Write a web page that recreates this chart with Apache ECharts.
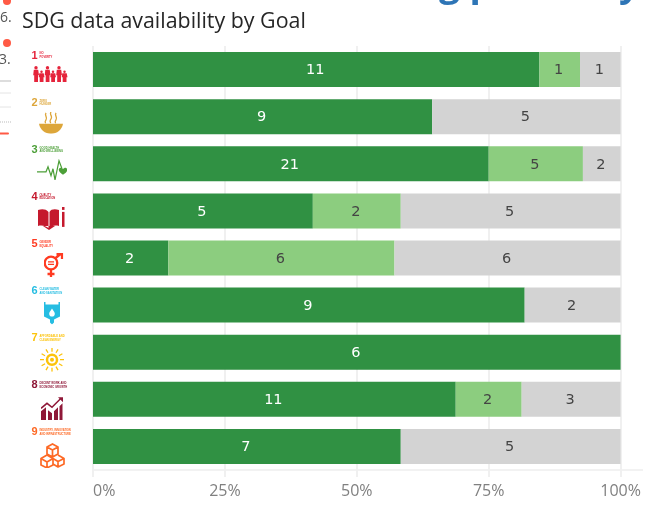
<!DOCTYPE html>
<html><head><meta charset="utf-8">
<style>html,body{margin:0;padding:0;background:#fff;overflow:hidden}#c{width:666px;height:505px;filter:blur(0.35px)}</style>
<script src="https://cdn.jsdelivr.net/npm/echarts@6/dist/echarts.min.js"></script>
</head><body><div id="c"></div>
<script>
const goalNumbers = ['1','2','3','4','5','6','7','8','9'];
const goalTitles = ['NO\nPOVERTY','ZERO\nHUNGER','GOOD HEALTH\nAND WELL-BEING','QUALITY\nEDUCATION','GENDER\nEQUALITY','CLEAN WATER\nAND SANITATION','AFFORDABLE AND\nCLEAN ENERGY','DECENT WORK AND\nECONOMIC GROWTH','INDUSTRY, INNOVATION\nAND INFRASTRUCTURE'];
const goalColors = ['#e5243b','#dda63a','#4c9f38','#c5192d','#ff3a21','#26bde2','#fcc30b','#8f1838','#fd6925'];
const darkCounts  = [11, 9, 21, 5, 2, 9, 6, 11, 7];
const lightCounts = [ 1, 0,  5, 2, 6, 0, 0,  2, 0];
const grayCounts  = [ 1, 5,  2, 5, 6, 2, 0,  3, 5];
const tickValues = [0, 25, 50, 75, 100];

const GL = 93, GR = 620.6, GT = 46, GB = 470;
const band = (GB - GT) / 9;
const rowY = i => GT + band * (i + 0.5);
const share = (arr) => arr.map((v, i) => v / (darkCounts[i] + lightCounts[i] + grayCounts[i]) * 100);

const svgs = [
 {x:33,dy:-3.5,w:35,h:16,b:(c)=>[3,8.5,14.5,20,26,31.5].map((p,k)=>{const s=[1,.72,1,.72,1,.72][k];const t=16-16*s;return `<circle cx="${p}" cy="${t+1.7*s}" r="${1.7*s}" fill="${c}"/><path d="M${p-2.2} ${t+3.8*s}h4.4l${.8} ${5.5*s}h-1v${6.7*s}h-3.8v-${6.7*s}h-1z" fill="${c}"/>`}).join('')},
 {x:38,dy:-4.8,w:26,h:22,b:(c)=>`<path d="M1 12H25C24 18 19 22 13 22S2 18 1 12Z" fill="${c}"/><g fill="none" stroke="${c}" stroke-width="1.3"><path d="M8 1c-2 3 2 4 0 7s0 3 0 3"/><path d="M13 0c-2 3 2 4 0 7s0 4 0 4"/><path d="M18 1c-2 3 2 4 0 7s0 3 0 3"/></g>`},
 {x:37,dy:-5,w:30,h:22,b:(c)=>`<path d="M0 13H9L11 8 14 17 16 10 18 21 22 2 25 10" fill="none" stroke="${c}" stroke-width="1.2"/><path d="M26 16c-3-2-5-4-4-6 1-1.500 3-1 4 .5 1-1.500 3-2 4-.5 1 2-1 4-4 6Z" fill="${c}"/>`},
 {x:38,dy:-4,w:27,h:23,b:(c)=>`<path d="M0 3C4 2 8 2 10.500 5V21C8 19 4 18 0 19ZM21 3C17 2 13 2 11.500 5V21C13 19 17 18 21 19ZM5 19L11 23 17 19Z" fill="${c}"/><rect x="24" y="0" width="2.500" height="3" fill="${c}"/><rect x="24" y="5" width="2.500" height="15" fill="${c}"/>`},
 {x:43.500,dy:-5,w:20,h:24,b:(c)=>`<g fill="none" stroke="${c}" stroke-width="2.300"><circle cx="7.500" cy="10" r="6.300"/><path d="M7.500 16.500V24M4 21H11M11.500 5.500L17 1M13 1H18.500V6"/><path d="M4.500 8.800H10.500M4.500 11.300H10.500" stroke-width="1.200"/></g>`},
 {x:43,dy:-3.5,w:18,h:23,b:(c)=>`<path d="M1 0H2.500V3H15.500V0H17V15L11 18V21L9 23 7 21V18L1 15Z" fill="${c}"/><path d="M9 7C7 10 6.200 11 6.200 12.200A2.800 2.800 0 0 0 11.800 12.200C11.800 11 11 10 9 7Z" fill="#fff"/>`},
 {x:40,dy:-4.5,w:24,h:24,b:(c)=>`<circle cx="12" cy="12" r="5" fill="none" stroke="${c}" stroke-width="2.500"/><circle cx="12" cy="12" r="2" fill="${c}"/><g stroke="${c}" stroke-width="1.300">${[0,30,60,90,120,150,180,210,240,270,300,330].map(a=>`<line x1="12" y1="4" x2="12" y2="0" transform="rotate(${a} 12 12)"/>`).join('')}</g>`},
 {x:41,dy:-3,w:22,h:24,b:(c)=>`<path d="M0 24V15L5 11V24ZM7 24V14L11 17V24ZM13 24V15L17 11V24ZM18.500 24V10L21.500 7V24Z" fill="${c}"/><path d="M0 12L6 7 11 11 20 2" fill="none" stroke="${c}" stroke-width="1.500"/><path d="M17 1H22V6Z" fill="${c}"/>`},
 {x:40,dy:-3.5,w:25,h:25,b:(c)=>`<g fill="none" stroke="${c}" stroke-width="1.700" stroke-linejoin="round"><path d="M12.500 1L18 4V11L12.500 14 7 11V4ZM7 4L12.500 7 18 4M12.500 7V14"/><path d="M7 12L13 15.500V22L7 25 1 22V15.500ZM1 15.500L7 19 13 15.500M7 19V25"/><path d="M18 12L24 15.500V21L18 24 13 21M13 15.500L18 18.500 24 15.500M18 18.500V24"/></g>`}
];
const svgUrl = (s, c) => 'data:image/svg+xml;charset=utf-8,' + encodeURIComponent(
  `<svg xmlns="http://www.w3.org/2000/svg" width="${s.w*4}" height="${s.h*4}" viewBox="0 0 ${s.w} ${s.h}">${s.b(c)}</svg>`);

const graphics = [];
const L = (x1,y1,x2,y2,stroke,w,dash)=>({type:'line',silent:true,shape:{x1,y1,x2,y2},style:{stroke,lineWidth:w,lineDash:dash||null}});
graphics.push(L(GL,470,643,470,'#f2f2f2',2));
goalNumbers.forEach((n,i)=>{
  const y = rowY(i), s = svgs[i], c = goalColors[i];
  graphics.push({type:'text',silent:true,x:31.5,y:y-14,style:{text:n,font:'bold 11px "Liberation Sans Narrow","Liberation Sans"',fill:c,textAlign:'left',textVerticalAlign:'middle'}});
  graphics.push({type:'text',silent:true,x:39.5,y:y-14,style:{text:goalTitles[i],font:'bold 2.7px "Liberation Sans"',lineHeight:3.6,fill:c,textAlign:'left',textVerticalAlign:'middle'}});
  graphics.push({type:'image',silent:true,x:s.x,y:y+s.dy,style:{image:svgUrl(s,c),width:s.w,height:s.h}});
});
graphics.push({type:'text',silent:true,x:22,y:22,style:{text:'SDG data availability by Goal',font:'21.4px "Open Sans"',fill:'#262626',textAlign:'left',textVerticalAlign:'middle'}});
graphics.push({type:'text',silent:true,x:439,y:-15,style:{text:'g primarily',font:'bold 37px "Open Sans"',fill:'#2e75b6',textAlign:'left',textVerticalAlign:'middle'}});
graphics.push({type:'group',silent:true,children:[
  {type:'circle',shape:{cx:7,cy:1,r:4},style:{fill:'#ff5a45'}},
  {type:'circle',shape:{cx:7,cy:43,r:4},style:{fill:'#ff5a45'}},
  {type:'text',x:0,y:18,style:{text:'6.',font:'14px "Open Sans"',fill:'#555',textVerticalAlign:'middle'}},
  {type:'text',x:-1,y:60,style:{text:'3.',font:'14px "Open Sans"',fill:'#555',textVerticalAlign:'middle'}},
  L(0,81,11,81,'#bbb',1),L(0,93,11,93,'#e4e4e4',1),L(0,107,11,107,'#e4e4e4',1),L(0,122,11,122,'#bbb',1,[1,1]),
  {type:'line',shape:{x1:0,y1:133.500,x2:8,y2:133.500},style:{stroke:'#ff5a45',lineWidth:2,lineCap:'round'}}
]});

const mkSeries = (name, shares, counts, color, textColor) => ({
  name, type:'bar', stack:'t', barWidth:35, silent:true,
  itemStyle:{color},
  label:{show:true,position:'inside',color:textColor,fontFamily:'"DejaVu Sans"',fontSize:14.5,offset:[-1,1],
    formatter:p=>counts[p.dataIndex]||''},
  data:shares
});

const chart = echarts.init(document.getElementById('c'),null,{renderer:'canvas'});
chart.setOption({
  animation:false,backgroundColor:'#fff',
  grid:{left:GL,right:666-GR,top:GT,bottom:505-GB},
  xAxis:{type:'value',min:0,max:100,interval:25,
    axisLine:{show:false},
    axisTick:{show:true,length:7,lineStyle:{color:'#f0f0f0',width:2}},
    splitLine:{show:true,lineStyle:{color:'#f0f0f0',width:2}},
    axisLabel:{margin:13,color:'#808080',fontFamily:'"Open Sans"',fontSize:16,alignMinLabel:'left',alignMaxLabel:'center',
      customValues:tickValues,formatter:v=>v+'%'}},
  yAxis:{type:'category',inverse:true,data:goalNumbers,axisLabel:{show:false},axisTick:{show:false},axisLine:{show:false}},
  series:[
    mkSeries('Data available',share(darkCounts),darkCounts,'#309143','#fff'),
    mkSeries('Partial',share(lightCounts),lightCounts,'#8ccd7f','#444'),
    mkSeries('No data',share(grayCounts),grayCounts,'#d3d3d3','#444')
  ],
  graphic:graphics
});
</script></body></html>
